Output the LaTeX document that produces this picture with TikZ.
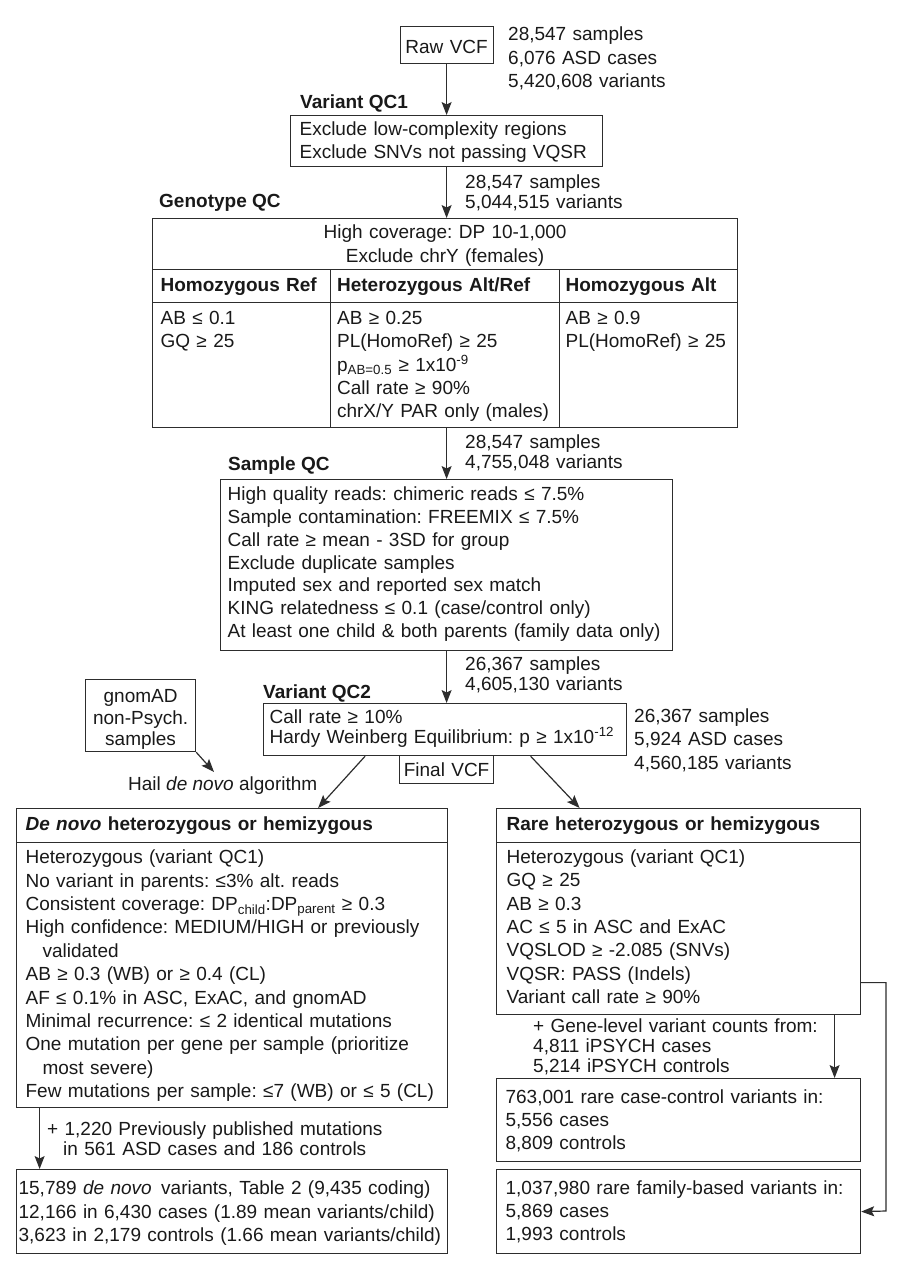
\documentclass[tikz,border=0pt]{standalone}
\usepackage{fontspec}
\setmainfont{Liberation Sans}
\frenchspacing
\usepackage{tikz}
\usetikzlibrary{arrows.meta, positioning}
\definecolor{lineink}{RGB}{45,45,45}
\definecolor{textink}{RGB}{25,25,25}

\begin{document}
\begin{tikzpicture}[x=1pt, y=-1pt,
  every node/.style={text=textink},
  box/.style={draw=lineink, line width=1.2pt, anchor=north west, inner ysep=0pt,
    align=left, font=\fontsize{19}{23}\selectfont},
  cbox/.style={box, align=center},
  hdr/.style={box, font=\fontsize{19}{23}\selectfont\bfseries},
  txt/.style={anchor=base west, inner sep=0pt, align=left, text width=400pt,
    font=\fontsize{19}{23.5}\selectfont},
  note/.style={txt, font=\fontsize{19}{20}\selectfont},
  lbl/.style={anchor=base west, inner sep=0pt, font=\fontsize{19}{23}\selectfont\bfseries},
  arr/.style={draw=lineink, line width=1.2pt, -{Stealth[length=13pt, width=10pt, inset=2.5pt]}}
]
  \useasboundingbox (0,0) rectangle (905,1280);

  % Raw input
  \node[cbox, minimum width=93pt, text width=85pt, inner xsep=4pt,
    text height=26.8pt, text depth=10.2pt] (raw) at (399.5,26) {Raw VCF};
  \node[txt] (rawinfo) at (508,40.5) {28,547 samples\\6,076 ASD cases\\5,420,608 variants};

  % Variant QC1
  \node[lbl] (qc1lbl) at (300,108) {Variant QC1};
  \node[box, text width=294pt, inner xsep=9pt, text height=20pt, text depth=31pt]
    (qc1) at (290,115) {Exclude low-complexity regions\\Exclude SNVs not passing VQSR};
  \node[note] (qc1info) at (465,188) {28,547 samples\\5,044,515 variants};

  % Genotype QC table
  \node[lbl] (gtlbl) at (159,207) {Genotype QC};
  \node[cbox, text width=569pt, inner xsep=8pt, text height=20pt, text depth=31pt,
    font=\fontsize{19}{24}\selectfont]
    (gttop) at (152,218) {High coverage: DP 10-1,000\\Exclude chrY (females)};
  \node[hdr, text width=161.5pt, inner xsep=8pt, text height=22pt, text depth=11pt]
    (hdref) at (152,269) {Homozygous Ref};
  \node[hdr, text width=215.5pt, inner xsep=7pt, text height=22pt, text depth=11pt]
    (hdhet) at (329.5,269) {Heterozygous Alt/Ref};
  \node[hdr, text width=166pt, inner xsep=6pt, text height=22pt, text depth=11pt]
    (hdalt) at (559,269) {Homozygous Alt};
  \node[box, text width=161.5pt, inner xsep=8pt, text height=22pt, text depth=103pt,
    font=\fontsize{19}{23.3}\selectfont]
    (cellref) at (152,302) {AB ≤ 0.1\\GQ ≥ 25};
  \node[box, text width=215.5pt, inner xsep=7pt, text height=22pt, text depth=103pt,
    font=\fontsize{19}{23.3}\selectfont]
    (cellhet) at (329.5,302) {AB ≥ 0.25\\PL(HomoRef) ≥ 25\\p\textsubscript{AB=0.5} ≥ 1x10\textsuperscript{-9}\\Call rate ≥ 90\%\\chrX/Y PAR only (males)};
  \node[box, text width=166pt, inner xsep=6pt, text height=22pt, text depth=103pt,
    font=\fontsize{19}{23.3}\selectfont]
    (cellalt) at (559,302) {AB ≥ 0.9\\PL(HomoRef) ≥ 25};
  \node[note] (gtinfo) at (465,448) {28,547 samples\\4,755,048 variants};

  % Sample QC
  \node[lbl] (sqclbl) at (228,470) {Sample QC};
  \node[box, text width=438pt, inner xsep=7pt, text height=21pt, text depth=150pt,
    font=\fontsize{19}{22.8}\selectfont]
    (sqc) at (220,479) {High quality reads: chimeric reads ≤ 7.5\%\\
      Sample contamination: FREEMIX ≤ 7.5\%\\
      Call rate ≥ mean - 3SD for group\\
      Exclude duplicate samples\\
      Imputed sex and reported sex match\\
      KING relatedness ≤ 0.1 (case/control only)\\
      At least one child \& both parents (family data only)};
  \node[note] (sqcinfo) at (465,670) {26,367 samples\\4,605,130 variants};

  % Variant QC2
  \node[lbl] (qc2lbl) at (263,698) {Variant QC2};
  \node[cbox, text width=102pt, inner xsep=4pt, text height=23pt, text depth=49pt,
    font=\fontsize{19}{21.5}\selectfont]
    (gnomad) at (85,679) {gnomAD\\non-Psych.\\samples};
  \node[box, text width=351pt, inner xsep=6pt, text height=20pt, text depth=32pt,
    font=\fontsize{19}{19.5}\selectfont]
    (qc2) at (263,703) {Call rate ≥ 10\%\\Hardy Weinberg Equilibrium: p ≥ 1x10\textsuperscript{-12}};
  \node[txt] (qc2info) at (634,722) {26,367 samples\\5,924 ASD cases\\4,560,185 variants};
  \node[cbox, text width=90pt, inner xsep=2pt, text height=20.8pt, text depth=7.2pt]
    (finalvcf) at (399,755) {Final VCF};
  \node[anchor=base west, inner sep=0pt, font=\fontsize{19}{23}\selectfont]
    (hail) at (128,790) {Hail \textit{de novo} algorithm};
  \coordinate (hailtip) at (214,772);

  % De novo branch
  \node[hdr, text width=413pt, inner xsep=9pt, text height=22pt, text depth=12pt]
    (dnhead) at (16,808) {\textit{De novo} heterozygous or hemizygous};
  \node[box, text width=413pt, inner xsep=9pt, text height=21pt, text depth=244pt,
    font=\fontsize{19}{23.4}\selectfont]
    (dnbody) at (16,842) {Heterozygous (variant QC1)\\
      No variant in parents: ≤3\% alt. reads\\
      Consistent coverage: DP\textsubscript{child}:DP\textsubscript{parent} ≥ 0.3\\
      High confidence: MEDIUM/HIGH or previously\\
      \hspace*{17pt}validated\\
      AB ≥ 0.3 (WB) or ≥ 0.4 (CL)\\
      AF ≤ 0.1\% in ASC, ExAC, and gnomAD\\
      Minimal recurrence: ≤ 2 identical mutations\\
      One mutation per gene per sample (prioritize\\
      \hspace*{17pt}most severe)\\
      Few mutations per sample: ≤7 (WB) or ≤ 5 (CL)};
  \node[note] (pubnote) at (47,1135) {+ 1,220 Previously published mutations\\
    \hspace*{16pt}in 561 ASD cases and 186 controls};
  \node[box, text width=427pt, inner xsep=2pt, text height=25pt, text depth=59pt,
    font=\fontsize{19}{23.5}\selectfont]
    (dnres) at (16,1169) {15,789 \textit{de novo}\, variants, Table 2 (9,435 coding)\\
      12,166 in 6,430 cases (1.89 mean variants/child)\\
      3,623 in 2,179 controls (1.66 mean variants/child)};

  % Rare branch
  \node[hdr, text width=344pt, inner xsep=10pt, text height=22pt, text depth=12pt]
    (rarehead) at (496,808) {Rare heterozygous or hemizygous};
  \node[box, text width=344pt, inner xsep=10pt, text height=21pt, text depth=151pt,
    font=\fontsize{19}{23.3}\selectfont]
    (rarebody) at (496,842) {Heterozygous (variant QC1)\\
      GQ ≥ 25\\
      AB ≥ 0.3\\
      AC ≤ 5 in ASC and ExAC\\
      VQSLOD ≥ -2.085 (SNVs)\\
      VQSR: PASS (Indels)\\
      Variant call rate ≥ 90\%};
  \node[note] (genenote) at (533,1032) {+ Gene-level variant counts from:\\
    4,811 iPSYCH cases\\5,214 iPSYCH controls};
  \node[box, text width=346pt, inner xsep=9pt, text height=25pt, text depth=58pt]
    (casectrl) at (496,1078) {763,001 rare case-control variants in:\\5,556 cases\\8,809 controls};
  \node[box, text width=346pt, inner xsep=9pt, text height=25pt, text depth=59pt]
    (family) at (496,1169) {1,037,980 rare family-based variants in:\\5,869 cases\\1,993 controls};
  \coordinate (elbow) at (886,1211);

  % Arrows
  \draw[arr] (raw) -- (qc1);
  \draw[arr] (qc1) -- (qc1 |- gttop.north);
  \draw[arr] (sqc |- cellhet.south) -- (sqc.north);
  \draw[arr] (sqc) -- (sqc |- qc2.north);
  \draw[arr] (gnomad.south east) -- (hailtip);
  \draw[arr] ([xshift=-80pt]qc2.south) -- ([xshift=86pt]dnhead.north);
  \draw[arr] ([xshift=85.5pt]qc2.south) -- ([xshift=-99pt]rarehead.north);
  \draw[arr] ([xshift=-192.5pt]dnbody.south) -- ([xshift=-192.5pt]dnres.north);
  \draw[arr] ([xshift=156pt]rarebody.south) -- ([xshift=156pt]casectrl.north);
  \draw[arr] ([yshift=-54pt]rarebody.east) -| (elbow) -- (family.east);
\end{tikzpicture}
\end{document}
